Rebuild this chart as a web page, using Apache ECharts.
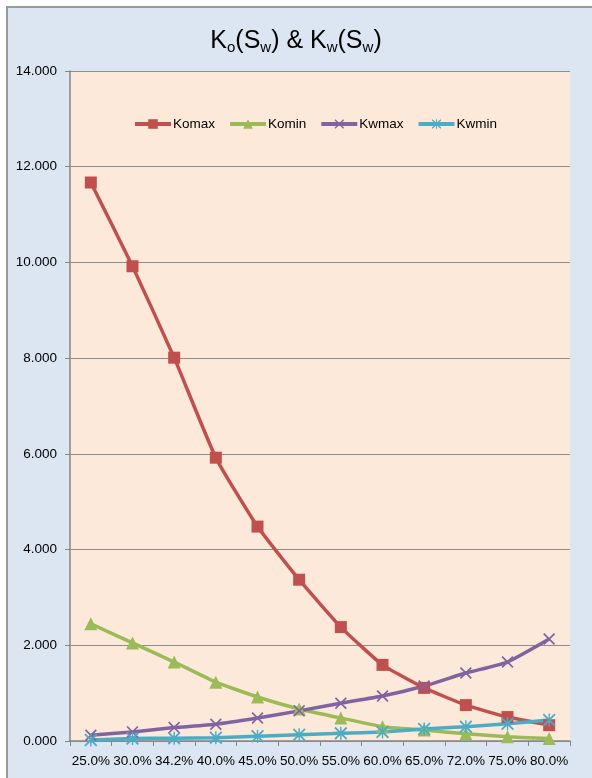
<!DOCTYPE html>
<html>
<head>
<meta charset="utf-8">
<script src="https://cdn.jsdelivr.net/npm/echarts@6/dist/echarts.min.js"></script>
<style>
  html, body { margin: 0; padding: 0; background: #fff; }
  .frame {
    position: absolute; left: 6px; top: 6px; width: 586px; height: 772px;
    background: #dce6f2; border-left: 2px solid #9a9a9a; border-top: 2px solid #9a9a9a;
    box-sizing: border-box;
  }
  #chart { position: absolute; left: 0; top: 0; width: 592px; height: 778px; }
</style>
</head>
<body>
<div class="frame"></div>
<div id="chart"></div>
<script>
const categories = ['25.0%', '30.0%', '34.2%', '40.0%', '45.0%', '50.0%', '55.0%', '60.0%', '65.0%', '72.0%', '75.0%', '80.0%']
const komax = [11.67, 9.92, 8.01, 5.92, 4.48, 3.37, 2.38, 1.59, 1.11, 0.75, 0.50, 0.33]
const komin = [2.45, 2.05, 1.65, 1.23, 0.92, 0.67, 0.48, 0.30, 0.23, 0.15, 0.09, 0.05]
const kwmax = [0.12, 0.19, 0.28, 0.35, 0.48, 0.63, 0.79, 0.94, 1.15, 1.42, 1.65, 2.13]
const kwmin = [0.02, 0.05, 0.06, 0.07, 0.10, 0.13, 0.16, 0.19, 0.25, 0.30, 0.36, 0.44]

// stroke-like marker shapes built as thin filled bars
const crossPath = 'path://M0,1 L1,0 L10,9 L9,10 Z M9,0 L10,1 L1,10 L0,9 Z'
const starPath = 'path://M0,1 L1,0 L10,9 L9,10 Z M9,0 L10,1 L1,10 L0,9 Z M4.45,0 L5.55,0 L5.55,10 L4.45,10 Z'

const font = '"Liberation Sans", Arial, sans-serif'

const makeSeries = (name, data, color, symbol, size) => ({
  name,
  type: 'line',
  data,
  smooth: 0.15,
  symbol,
  symbolSize: size,
  showAllSymbol: true,
  lineStyle: { color, width: 3.5 },
  itemStyle: { color },
  emphasis: { disabled: true }
})

const chart = echarts.init(document.getElementById('chart'))
chart.setOption({
  backgroundColor: 'transparent',
  animation: false,
  textStyle: { fontFamily: font },
  title: {
    text: '{a|K}{s|o}{a|(S}{s|w}{a|) & K}{s|w}{a|(S}{s|w}{a|)}',
    left: 'center',
    top: 21,
    textStyle: {
      fontWeight: 'normal',
      rich: {
        a: { fontSize: 25, color: '#000', fontFamily: font, fontWeight: 'normal', lineHeight: 30 },
        s: { fontSize: 15, color: '#000', fontFamily: font, fontWeight: 'normal', lineHeight: 30, padding: [13, 0, 0, 0] }
      }
    }
  },
  legend: {
    top: 112,
    left: 128,
    itemWidth: 36,
    itemHeight: 12,
    itemGap: 13,
    lineStyle: { width: 4 },
    textStyle: { color: '#000', fontSize: 13.5, fontFamily: font, padding: [0, 0, 0, -3] },
    data: ['Komax', 'Komin', 'Kwmax', 'Kwmin']
  },
  grid: {
    left: 70,
    right: 22,
    top: 71,
    bottom: 37,
    show: true,
    backgroundColor: '#fde9d9',
    borderWidth: 0
  },
  xAxis: {
    type: 'category',
    data: categories,
    boundaryGap: true,
    axisLine: { lineStyle: { color: '#868686', width: 1.5 } },
    axisTick: { show: true, length: 5, lineStyle: { color: '#868686' } },
    axisLabel: { color: '#000', fontSize: 13.5, margin: 13, interval: 0 }
  },
  yAxis: {
    type: 'value',
    min: 0,
    max: 14,
    interval: 2,
    axisLine: { show: true, lineStyle: { color: '#868686', width: 1.5 } },
    axisTick: { show: true, length: 5, lineStyle: { color: '#868686' } },
    splitLine: { lineStyle: { color: '#8c8c8c', width: 1 } },
    axisLabel: { color: '#000', fontSize: 13.5, margin: 13, formatter: v => v.toFixed(3) }
  },
  series: [
    makeSeries('Komax', komax, '#c0504d', 'rect', 12),
    makeSeries('Komin', komin, '#9bbb59', 'triangle', 13),
    makeSeries('Kwmax', kwmax, '#8064a2', crossPath, 12),
    makeSeries('Kwmin', kwmin, '#4bacc6', starPath, 13)
  ]
})
</script>
</body>
</html>
